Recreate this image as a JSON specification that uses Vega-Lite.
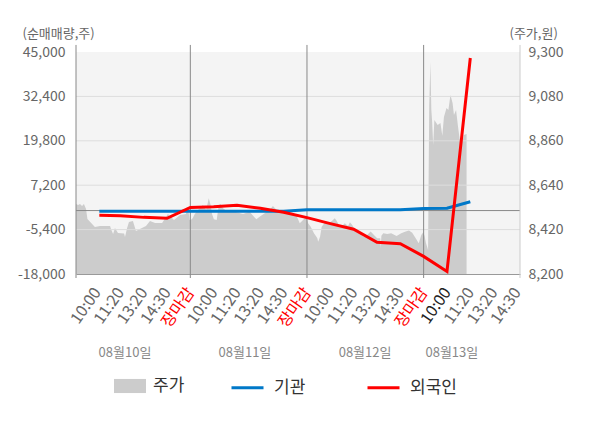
{
  "$schema": "https://vega.github.io/schema/vega-lite/v6.json",
  "width": 444,
  "height": 222,
  "autosize": {"type": "none"},
  "padding": {"left": 76, "top": 52, "right": 80, "bottom": 154},
  "background": "white",
  "config": {
    "view": {"fill": "#f4f4f4", "stroke": null},
    "font": "Noto Sans CJK KR",
    "axis": {"labelOverlap": false},
    "axisX": {"labelOverlap": false, "labelFlush": false}
  },
  "datasets": {
    "price": [
      {"t": -0.9, "p": 8547}, {"t": -0.81, "p": 8542}, {"t": -0.73, "p": 8547}, {"t": -0.64, "p": 8537},
      {"t": -0.56, "p": 8547}, {"t": -0.47, "p": 8522}, {"t": -0.41, "p": 8473}, {"t": -0.3, "p": 8459},
      {"t": -0.09, "p": 8433}, {"t": 0.13, "p": 8438}, {"t": 0.56, "p": 8438}, {"t": 0.6, "p": 8423},
      {"t": 0.69, "p": 8398}, {"t": 0.77, "p": 8428}, {"t": 0.9, "p": 8403}, {"t": 1.16, "p": 8401},
      {"t": 1.2, "p": 8383}, {"t": 1.24, "p": 8403}, {"t": 1.29, "p": 8428}, {"t": 1.37, "p": 8458},
      {"t": 1.54, "p": 8463}, {"t": 1.67, "p": 8413}, {"t": 1.84, "p": 8423}, {"t": 2.1, "p": 8438},
      {"t": 2.27, "p": 8463}, {"t": 2.49, "p": 8453}, {"t": 2.79, "p": 8453}, {"t": 3.04, "p": 8497},
      {"t": 3.3, "p": 8468}, {"t": 3.56, "p": 8492}, {"t": 3.81, "p": 8497}, {"t": 3.9, "p": 8532},
      {"t": 3.97, "p": 8468},
      {"t": 4.02, "p": 8468}, {"t": 4.1, "p": 8476}, {"t": 4.19, "p": 8497}, {"t": 4.33, "p": 8517},
      {"t": 4.54, "p": 8542}, {"t": 4.68, "p": 8517}, {"t": 4.79, "p": 8575}, {"t": 4.87, "p": 8542},
      {"t": 4.93, "p": 8497}, {"t": 5.01, "p": 8471}, {"t": 5.13, "p": 8468}, {"t": 5.22, "p": 8542},
      {"t": 5.3, "p": 8547}, {"t": 5.4, "p": 8526}, {"t": 5.54, "p": 8514}, {"t": 5.9, "p": 8509},
      {"t": 6.26, "p": 8497}, {"t": 6.54, "p": 8509}, {"t": 6.83, "p": 8471}, {"t": 6.97, "p": 8484},
      {"t": 7.19, "p": 8501}, {"t": 7.4, "p": 8517}, {"t": 7.54, "p": 8537}, {"t": 7.73, "p": 8514},
      {"t": 7.93, "p": 8501}, {"t": 8.11, "p": 8509}, {"t": 8.33, "p": 8504}, {"t": 8.54, "p": 8492},
      {"t": 8.69, "p": 8451}, {"t": 8.83, "p": 8468}, {"t": 8.97, "p": 8484},
      {"t": 9.05, "p": 8451}, {"t": 9.16, "p": 8434}, {"t": 9.3, "p": 8402}, {"t": 9.44, "p": 8378},
      {"t": 9.48, "p": 8360}, {"t": 9.56, "p": 8385}, {"t": 9.63, "p": 8434}, {"t": 9.76, "p": 8454},
      {"t": 9.94, "p": 8451}, {"t": 10.08, "p": 8464}, {"t": 10.19, "p": 8476}, {"t": 10.27, "p": 8464},
      {"t": 10.37, "p": 8443}, {"t": 10.47, "p": 8434}, {"t": 10.62, "p": 8451}, {"t": 10.76, "p": 8438},
      {"t": 10.84, "p": 8456}, {"t": 10.94, "p": 8443}, {"t": 11.09, "p": 8410}, {"t": 11.27, "p": 8402},
      {"t": 11.44, "p": 8385}, {"t": 11.58, "p": 8393}, {"t": 11.73, "p": 8410}, {"t": 11.87, "p": 8393},
      {"t": 12.01, "p": 8377}, {"t": 12.14, "p": 8377}, {"t": 12.16, "p": 8329}, {"t": 12.19, "p": 8390},
      {"t": 12.27, "p": 8402}, {"t": 12.44, "p": 8398}, {"t": 12.61, "p": 8402}, {"t": 12.84, "p": 8388},
      {"t": 13.04, "p": 8402}, {"t": 13.23, "p": 8410}, {"t": 13.37, "p": 8415}, {"t": 13.51, "p": 8405},
      {"t": 13.66, "p": 8377}, {"t": 13.79, "p": 8352}, {"t": 13.9, "p": 8393},
      {"t": 13.99, "p": 8408}, {"t": 14.04, "p": 8388}, {"t": 14.1, "p": 8354}, {"t": 14.19, "p": 8319},
      {"t": 14.21, "p": 8626}, {"t": 14.24, "p": 9037}, {"t": 14.29, "p": 9250}, {"t": 14.33, "p": 9013},
      {"t": 14.36, "p": 8963}, {"t": 14.41, "p": 8839}, {"t": 14.46, "p": 8963}, {"t": 14.6, "p": 8938},
      {"t": 14.72, "p": 8948}, {"t": 14.8, "p": 8885}, {"t": 14.87, "p": 8978}, {"t": 14.98, "p": 9023},
      {"t": 15.06, "p": 9013}, {"t": 15.15, "p": 9087}, {"t": 15.24, "p": 9047}, {"t": 15.3, "p": 8988},
      {"t": 15.39, "p": 9013}, {"t": 15.47, "p": 8933}, {"t": 15.55, "p": 8864}, {"t": 15.68, "p": 8864},
      {"t": 15.72, "p": 8889}, {"t": 15.84, "p": 8894}
    ],
    "flow": [
      {"t": 0.1, "series": "기관", "v": -200}, {"t": 1, "series": "기관", "v": -200},
      {"t": 2, "series": "기관", "v": -200}, {"t": 3, "series": "기관", "v": -200},
      {"t": 4, "series": "기관", "v": -200}, {"t": 5, "series": "기관", "v": -200},
      {"t": 6, "series": "기관", "v": -200}, {"t": 7, "series": "기관", "v": -200},
      {"t": 8, "series": "기관", "v": -200}, {"t": 9, "series": "기관", "v": 250},
      {"t": 10, "series": "기관", "v": 250}, {"t": 11, "series": "기관", "v": 250},
      {"t": 12, "series": "기관", "v": 250}, {"t": 13, "series": "기관", "v": 250},
      {"t": 14, "series": "기관", "v": 600}, {"t": 15, "series": "기관", "v": 650},
      {"t": 16, "series": "기관", "v": 2500},
      {"t": 0.1, "series": "외국인", "v": -1340}, {"t": 1, "series": "외국인", "v": -1450},
      {"t": 2, "series": "외국인", "v": -1930}, {"t": 3, "series": "외국인", "v": -2190},
      {"t": 4, "series": "외국인", "v": 870}, {"t": 5, "series": "외국인", "v": 1100},
      {"t": 6, "series": "외국인", "v": 1500}, {"t": 7, "series": "외국인", "v": 650},
      {"t": 8, "series": "외국인", "v": -500}, {"t": 9, "series": "외국인", "v": -2000},
      {"t": 10, "series": "외국인", "v": -3700}, {"t": 11, "series": "외국인", "v": -5300},
      {"t": 12, "series": "외국인", "v": -9000}, {"t": 13, "series": "외국인", "v": -9400},
      {"t": 14, "series": "외국인", "v": -13000}, {"t": 15, "series": "외국인", "v": -17300},
      {"t": 16, "series": "외국인", "v": 43300}
    ],
    "grid": [{"v": -5400}, {"v": 7200}, {"v": 19800}, {"v": 32400}],
    "seps": [{"t": -0.9}, {"t": 4}, {"t": 9}, {"t": 14}],
    "dates": [
      {"t": 1.2, "d": "08월10일"},
      {"t": 6.34, "d": "08월11일"},
      {"t": 11.49, "d": "08월12일"},
      {"t": 15.21, "d": "08월13일"}
    ]
  },
  "layer": [
    {
      "data": {"name": "price"},
      "mark": {"type": "area", "opacity": 1},
      "encoding": {
        "x": {
          "field": "t", "type": "quantitative", "title": null,
          "scale": {"domain": [-0.9, 18.13], "nice": false, "zero": false},
          "axis": {
            "values": [0, 1, 2, 3, 4, 5, 6, 7, 8, 9, 10, 11, 12, 13, 14, 15, 16, 17, 18],
            "tickCount": 40,
            "labelExpr": "['10:00','11:20','13:20','14:30','장마감'][datum.value % 5]",
            "labelAngle": -55,
            "labelAlign": "right",
            "labelBaseline": "middle",
            "labelPadding": 15,
            "labelFontSize": 16,
            "labelColor": {"expr": "datum.value % 5 == 4 ? '#ff0000' : datum.value == 15 ? '#222222' : '#666666'"},
            "labelOverlap": false,
            "labelFlush": false,
            "ticks": false,
            "grid": false,
            "domainColor": "#999999"
          }
        },
        "y": {
          "field": "p", "type": "quantitative",
          "scale": {"domain": [8200, 9300], "nice": false, "zero": false},
          "axis": {
            "orient": "right",
            "values": [8200, 8420, 8640, 8860, 9080, 9300],
            "format": ",d",
            "grid": false,
            "ticks": false,
            "domain": false,
            "labelPadding": 8,
            "labelFontSize": 14,
            "labelColor": "#666666",
            "title": "(주가,원)",
            "titleAngle": 0,
            "titleAlign": "left",
            "titleBaseline": "middle",
            "titleX": -11,
            "titleY": -19,
            "titleFontSize": 13,
            "titleFontWeight": "normal",
            "titleColor": "#666666"
          }
        },
        "y2": {"datum": 8200},
        "fill": {
          "datum": "주가",
          "scale": {"domain": ["주가"], "range": ["#cccccc"]},
          "legend": {
            "orient": "none", "legendX": 38, "legendY": 318, "title": null, "padding": 0,
            "symbolType": "M-1,-0.44H1V0.44H-1Z", "symbolSize": 1024, "symbolStrokeWidth": 0,
            "symbolOpacity": 1,
            "labelFontSize": 17, "labelColor": "#333333", "labelOffset": 7
          }
        }
      }
    },
    {
      "layer": [
        {
          "data": {"name": "grid"},
          "mark": {"type": "rule", "color": "#dddddd", "strokeWidth": 1},
          "encoding": {
            "y": {
              "field": "v", "type": "quantitative",
              "scale": {"domain": [-18000, 45000], "nice": false, "zero": false},
              "axis": {
                "orient": "left",
                "values": [-18000, -5400, 7200, 19800, 32400, 45000],
                "labelExpr": "replace(format(datum.value, ','), '\u2212', '-')",
                "grid": false,
                "ticks": false,
                "domain": false,
                "labelPadding": 11,
                "labelFontSize": 14,
                "labelColor": "#666666",
                "title": "(순매매량,주)",
                "titleAngle": 0,
                "titleAlign": "left",
                "titleBaseline": "middle",
                "titleX": -54,
                "titleY": -19,
                "titleFontSize": 13,
                "titleFontWeight": "normal",
                "titleColor": "#666666"
              }
            }
          }
        },
        {
          "data": {"values": [{}]},
          "mark": {"type": "rule", "color": "#888888", "strokeWidth": 1},
          "encoding": {"y": {"datum": 0, "type": "quantitative"}}
        },
        {
          "data": {"name": "seps"},
          "mark": {"type": "rule", "color": "#888888", "strokeWidth": 1},
          "encoding": {
            "x": {"field": "t", "type": "quantitative", "title": null},
            "y": {"datum": 47000, "type": "quantitative"},
            "y2": {"datum": -19135}
          }
        },
        {
          "data": {"values": [{}]},
          "mark": {"type": "rule", "color": "#cccccc", "strokeWidth": 1},
          "encoding": {
            "x": {"datum": 18.13, "type": "quantitative"},
            "y": {"datum": 47000, "type": "quantitative"},
            "y2": {"datum": -19135}
          }
        },
        {
          "data": {"name": "flow"},
          "mark": {"type": "line", "strokeWidth": 3},
          "encoding": {
            "x": {"field": "t", "type": "quantitative", "title": null},
            "y": {"field": "v", "type": "quantitative"},
            "stroke": {
              "field": "series", "type": "nominal",
              "scale": {"domain": ["기관", "외국인"], "range": ["#0078c8", "#ff0000"]},
              "legend": {
                "orient": "none", "legendX": 154, "legendY": 318, "direction": "horizontal",
                "title": null, "padding": 0,
                "symbolType": "M-1,0H1", "symbolSize": 1024, "symbolStrokeWidth": 3,
                "labelFontSize": 17, "labelColor": "#333333", "labelOffset": 9,
                "columnPadding": 55
              }
            }
          }
        },
        {
          "data": {"name": "dates"},
          "mark": {"type": "text", "fontSize": 13, "color": "#888888", "align": "center", "baseline": "middle"},
          "encoding": {
            "x": {"field": "t", "type": "quantitative", "title": null},
            "y": {"datum": -40418, "type": "quantitative"},
            "text": {"field": "d"}
          }
        }
      ]
    }
  ],
  "resolve": {"scale": {"y": "independent"}}
}
